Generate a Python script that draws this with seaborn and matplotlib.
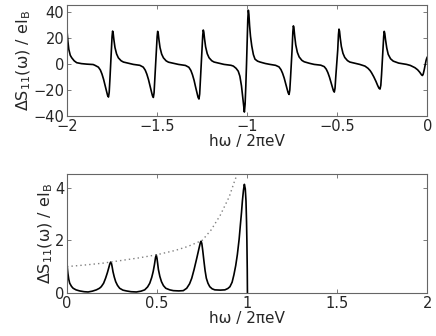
import matplotlib
matplotlib.use("Agg")
import matplotlib.pyplot as plt
import seaborn as sns

# upper panel: dispersive features at multiples of 0.25
top_x = [
    -2.000, -1.995, -1.990, -1.982, -1.974, -1.960, -1.946, -1.920, -1.890, -1.855,
    -1.845, -1.826, -1.815, -1.806, -1.797, -1.789, -1.781, -1.775, -1.770, -1.766, -1.762,
    -1.754, -1.750, -1.747, -1.744, -1.740, -1.734, -1.725, -1.715, -1.700, -1.687, -1.657, -1.632,
    -1.596, -1.577, -1.566, -1.557, -1.548, -1.540, -1.532, -1.526, -1.521, -1.517, -1.513,
    -1.504, -1.500, -1.497, -1.494, -1.490, -1.484, -1.475, -1.465, -1.450, -1.437, -1.407, -1.382,
    -1.343, -1.324, -1.313, -1.304, -1.295, -1.287, -1.279, -1.273, -1.268, -1.264, -1.260,
    -1.251, -1.247, -1.244, -1.241, -1.237, -1.231, -1.222, -1.212, -1.197, -1.184, -1.154, -1.129,
    -1.090, -1.077, -1.062, -1.050, -1.041, -1.032, -1.025, -1.020, -1.016, -1.012, -1.008, -1.004,
    -1.000, -0.997, -0.994, -0.991, -0.987, -0.982, -0.975, -0.966, -0.957, -0.943, -0.929, -0.900, -0.874,
    -0.843, -0.824, -0.813, -0.804, -0.795, -0.787, -0.779, -0.773, -0.768, -0.764, -0.760,
    -0.751, -0.747, -0.744, -0.741, -0.737, -0.731, -0.722, -0.712, -0.697, -0.684, -0.654, -0.629,
    -0.592, -0.573, -0.562, -0.553, -0.544, -0.536, -0.528, -0.522, -0.517, -0.513, -0.509,
    -0.498, -0.494, -0.491, -0.488, -0.484, -0.478, -0.469, -0.459, -0.444, -0.431, -0.401, -0.376,
    -0.360, -0.347, -0.330, -0.318, -0.310, -0.298, -0.286, -0.277, -0.269, -0.2635, -0.259, -0.255,
    -0.251, -0.247, -0.243, -0.240, -0.237, -0.233, -0.226, -0.218, -0.205, -0.190, -0.160, -0.130, -0.116,
    -0.095, -0.070, -0.055, -0.043, -0.033, -0.028, -0.024, -0.018, -0.012, -0.008, -0.004, 0.000,
]
top_y = [
    25.2, 17.0, 11.0, 6.5, 4.6, 2.2, 0.8, 0.1, -0.3, -0.6,
    -1.2, -2.6, -4.8, -7.9, -12.0, -16.6, -20.9, -24.2, -25.5, -21.9, -12.0,
    10.0, 21.0, 25.0, 23.5, 18.5, 12.5, 7.5, 4.5, 2.3, 1.3, 0.3, -0.5,
    -1.2, -2.6, -4.9, -8.0, -12.1, -16.8, -21.2, -24.5, -25.8, -22.2, -12.1,
    9.9, 20.8, 24.8, 23.3, 18.4, 12.4, 7.4, 4.5, 2.2, 1.2, 0.3, -0.5,
    -1.3, -2.7, -5.1, -8.4, -12.7, -17.6, -22.1, -25.7, -27.0, -23.2, -12.7,
    10.3, 21.7, 25.8, 24.3, 19.1, 12.9, 7.7, 4.6, 2.3, 1.3, 0.3, -0.5,
    -1.2, -1.8, -3.5, -5.7, -9.5, -17.0, -26.0, -33.0, -37.0, -31.0, -17.0, 0.0,
    20.0, 34.0, 41.0, 38.0, 29.0, 21.0, 13.6, 7.0, 3.5, 2.0, 1.3, 0.2, -0.5,
    -1.2, -2.4, -4.5, -7.3, -11.0, -15.3, -19.3, -22.3, -23.5, -20.2, -11.0,
    11.6, 24.4, 29.0, 27.3, 21.5, 14.5, 8.7, 5.2, 2.6, 1.5, 0.3, -0.5,
    -1.1, -2.2, -4.1, -6.7, -10.2, -14.1, -17.8, -20.6, -21.7, -18.7, -10.2,
    10.6, 22.3, 26.5, 24.9, 19.6, 13.3, 8.0, 4.8, 2.4, 1.3, 0.3, -0.5,
    -1.2, -1.8, -3.5, -5.3, -7.0, -10.0, -13.5, -16.5, -18.8, -19.4, -16.5, -8.5,
    1.0, 11.0, 21.0, 24.8, 23.2, 18.5, 12.0, 7.2, 3.8, 2.0, 0.5, -0.2, -0.5,
    -1.3, -3.0, -4.6, -6.5, -8.5, -9.0, -8.0, -4.5, -0.5, 2.5, 4.3, 5.4,
]

# lower panel: peaks below hw = eV, cut off at 1
bot_x = [
    0.000, 0.005, 0.010, 0.015, 0.025, 0.034, 0.050, 0.070, 0.095, 0.117, 0.140, 0.163,
    0.180, 0.190, 0.203, 0.214, 0.224, 0.231, 0.237, 0.242, 0.247, 0.251, 0.255, 0.262,
    0.270, 0.280, 0.292, 0.310, 0.329, 0.355, 0.385, 0.410, 0.431, 0.447, 0.459, 0.470,
    0.478, 0.485, 0.491, 0.495, 0.499, 0.503, 0.507, 0.515, 0.524, 0.535, 0.548, 0.570,
    0.590, 0.620, 0.645, 0.664, 0.680, 0.692, 0.705, 0.720, 0.733, 0.740, 0.744, 0.748,
    0.753, 0.760, 0.766, 0.773, 0.782, 0.792, 0.805, 0.820, 0.850, 0.876, 0.892, 0.904,
    0.916, 0.926, 0.936, 0.945, 0.955, 0.962, 0.968, 0.973, 0.979, 0.984, 0.989, 0.993,
    0.996, 0.998, 1.000, 1.001,
]
bot_y = [
    1.08, 0.75, 0.52, 0.38, 0.26, 0.19, 0.13, 0.09, 0.06, 0.05, 0.08, 0.13,
    0.19, 0.25, 0.38, 0.57, 0.78, 0.95, 1.10, 1.18, 1.12, 0.98, 0.82, 0.62,
    0.44, 0.30, 0.19, 0.12, 0.09, 0.06, 0.05, 0.08, 0.13, 0.24, 0.38, 0.60,
    0.82, 1.08, 1.35, 1.45, 1.33, 1.12, 0.90, 0.64, 0.44, 0.29, 0.19, 0.13,
    0.10, 0.09, 0.10, 0.19, 0.36, 0.57, 0.90, 1.33, 1.72, 1.92, 1.97, 1.88,
    1.62, 1.20, 0.86, 0.57, 0.38, 0.25, 0.17, 0.13, 0.12, 0.13, 0.18, 0.25,
    0.42, 0.70, 1.05, 1.46, 2.05, 2.60, 3.05, 3.49, 3.90, 4.12, 3.95, 3.49,
    2.70, 1.97, 0.90, 0.00,
]

# dotted envelope
env_x = [0.0, 0.1, 0.2, 0.3, 0.4, 0.5, 0.6, 0.67, 0.75, 0.8, 0.85, 0.9, 0.93, 0.95]
env_y = [1.01, 1.07, 1.14, 1.24, 1.34, 1.46, 1.62, 1.77, 2.0, 2.4, 2.95, 3.65, 4.25, 4.6]

top_xticks = [-2, -1.5, -1, -0.5, 0]
top_yticks = [-40, -20, 0, 20, 40]
bot_xticks = [0, 0.5, 1, 1.5, 2]
bot_yticks = [0, 2, 4]

sns.set_style("ticks")
plt.rcParams["font.family"] = ["DejaVu Sans"]
plt.rcParams["font.size"] = 10.5

ylabel = "ΔS$_{11}$(ω) / eI$_\\mathrm{B}$"
xlabel = "hω / 2πeV"

fig = plt.figure(figsize=(4.36, 3.36), dpi=100)
ax1 = fig.add_axes([0.1537, 0.6548, 0.8268, 0.3304])
ax2 = fig.add_axes([0.1537, 0.1271, 0.8268, 0.3542])

sns.lineplot(x=top_x, y=top_y, ax=ax1, color="black", lw=1.2, sort=False, estimator=None)
sns.lineplot(x=bot_x, y=bot_y, ax=ax2, color="black", lw=1.2, sort=False, estimator=None)
sns.lineplot(x=env_x, y=env_y, ax=ax2, color="0.5", lw=1.0, sort=False, estimator=None,
             linestyle=(0, (1, 2.2)))

ax1.set_xlim(-2, 0)
ax1.set_ylim(-40, 45)
ax1.set_xticks(top_xticks)
ax1.set_xticklabels(["\u22122", "\u22121.5", "\u22121", "\u22120.5", "0"])
ax1.set_yticks(top_yticks)

ax2.set_xlim(0, 2)
ax2.set_ylim(0, 4.5)
ax2.set_xticks(bot_xticks)
ax2.set_xticklabels(["0", "0.5", "1", "1.5", "2"])
ax2.set_yticks(bot_yticks)

for ax in (ax1, ax2):
    for s in ax.spines.values():
        s.set_color("0.4")
        s.set_linewidth(0.8)
        s.set_visible(True)
    ax.tick_params(direction="in", top=True, right=True, length=3, width=0.6,
                   color="0.4", labelsize=10.5, pad=2)
    ax.set_xlabel(xlabel, fontsize=11, labelpad=0)
    ax.set_ylabel(ylabel, fontsize=11.5, labelpad=0)

fig.savefig("out.png", dpi=100)
